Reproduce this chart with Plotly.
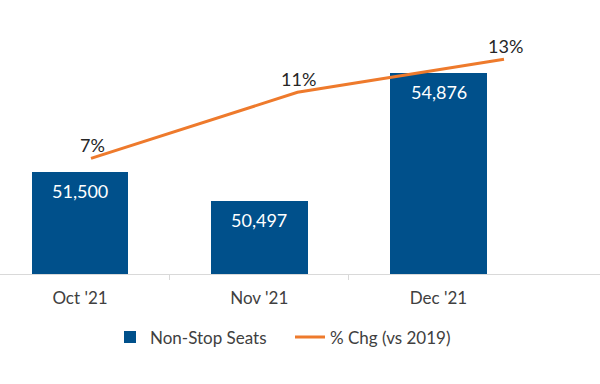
import plotly.graph_objects as go

categories = ["Oct '21", "Nov '21", "Dec '21"]
seats = [51500, 50497, 54876]
pct_chg = [7, 11, 13]
seat_labels = ["51,500", "50,497", "54,876"]
pct_labels = ["7%", "11%", "13%"]

FONT = "Lato, Open Sans, sans-serif"
BLUE = "#00508B"
ORANGE = "#EE7A2C"
TXT = "#404040"

xs = list(range(len(categories)))

fig = go.Figure()
fig.add_trace(go.Bar(
    x=xs, y=seats, name="Non-Stop Seats", marker=dict(color=BLUE, line=dict(width=0)),
    width=0.54, xaxis="x", yaxis="y",
))
fig.add_trace(go.Scatter(
    x=xs, y=pct_chg, name="% Chg (vs 2019)", mode="lines",
    line=dict(color=ORANGE, width=3), xaxis="x2", yaxis="y2",
))

annotations = []
for xi, v, lab in zip(xs, seats, seat_labels):
    annotations.append(dict(x=xi, y=v, xref="x", yref="y", text=lab, showarrow=False,
                            yshift=-19, font=dict(family=FONT, size=18, color="white")))
for xi, v, lab in zip(xs, pct_chg, pct_labels):
    annotations.append(dict(x=xi, y=v, xref="x2", yref="y2", text=lab, showarrow=False,
                            yanchor="middle", yshift=13, xshift=1,
                            font=dict(family=FONT, size=18, color="#262626")))

ppx_bar = 179.25
left_bar = -80 / ppx_bar
right_bar = (600 - 80) / ppx_bar
ppx_line = 206.5
left_line = -91 / ppx_line
right_line = (600 - 91) / ppx_line

plot_top = 30
plot_h = 244.5
fig.update_layout(
    width=600, height=384,
    margin=dict(l=0, r=0, t=plot_top, b=384 - plot_top - plot_h, autoexpand=False),
    paper_bgcolor="white", plot_bgcolor="white",
    font=dict(family=FONT, color=TXT, size=16),
    bargap=0,
    showlegend=True,
    hovermode=False,
    legend=dict(orientation="h", x=110 / 600, xanchor="left",
                y=(plot_h - (338 - plot_top)) / plot_h, yanchor="middle",
                font=dict(family=FONT, size=17, color=TXT), itemwidth=30,
                entrywidth=135, tracegroupgap=0),
    xaxis=dict(range=[left_bar, right_bar], tickvals=xs, ticktext=categories,
               showgrid=False, zeroline=False, showline=True, linecolor="#D9D9D9", linewidth=1,
               ticks="", ticklabelstandoff=9, tickfont=dict(family=FONT, size=17, color=TXT),
               minor=dict(tickvals=[0.5, 1.5], ticks="outside", ticklen=5, tickcolor="#D9D9D9", tickwidth=1),
               fixedrange=True),
    xaxis2=dict(range=[left_line, right_line], overlaying="x", visible=False),
    yaxis=dict(range=[48000, 48000 + plot_h * 34.2], visible=False),
    yaxis2=dict(range=[0, plot_h / 16.55], overlaying="y", visible=False),
    annotations=annotations,
)

fig.write_html("out.html", config={"displayModeBar": False},
               post_script="document.body.style.margin='0';document.body.style.padding='0';")
